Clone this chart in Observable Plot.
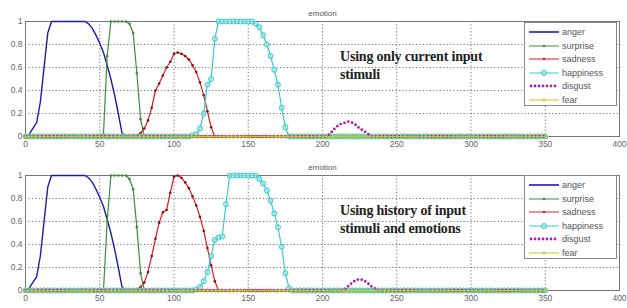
<!DOCTYPE html>
<html><head><meta charset="utf-8">
<script src="https://cdn.jsdelivr.net/npm/d3@7"></script>
<script src="https://cdn.jsdelivr.net/npm/@observablehq/plot@0.6"></script>
<style>
html,body{margin:0;padding:0;background:#fff;}
#wrap{position:relative;width:627px;height:308px;overflow:hidden;font-family:"Liberation Sans",Arial,sans-serif;}
#wrap svg{display:block;overflow:visible;}
.legend{position:absolute;left:524px;width:93px;height:84px;border:1px solid #888;background:#fff;box-sizing:border-box;}
.legend .row{position:absolute;left:4px;height:12px;display:flex;align-items:center;font-size:9px;color:#555;}
.legend .row svg{margin-right:3px;}
.note{position:absolute;left:340px;font-family:"Liberation Serif","DejaVu Serif",serif;font-weight:bold;font-size:14px;line-height:18px;color:#222;letter-spacing:-0.2px;}
</style></head>
<body><div id="wrap"></div>
<script>
// ---- data (time step 2.5; each series: start time + values, 0 elsewhere) ----
const step = 2.5;
const tEnd = 350;
const seriesNames = ["anger","surprise","sadness","happiness","disgust","fear"];
const xTicks = [0,50,100,150,200,250,300,350,400];
const yTicks = [0,0.2,0.4,0.6,0.8,1];
const panelTitle = "emotion";
const notes = ["Using only current input<br>stimuli", "Using history of input<br>stimuli and emotions"];

const angerTop = {start:0, values:[0,0.02,0.07,0.12,0.3,0.6,0.9,1,1,1,1,1,1,1,1,1,1,0.98,0.94,0.88,0.81,0.73,0.62,0.5,0.36,0.2,0.03,0]};
const surpriseTop = {start:50, values:[0,0.02,0.7,1,1,1,1,1,0.98,0.9,0.55,0.15,0]};
const sadnessTop = {start:72.5, values:[0,0.01,0.03,0.07,0.14,0.25,0.4,0.46,0.53,0.6,0.65,0.72,0.73,0.72,0.7,0.67,0.62,0.56,0.47,0.36,0.22,0.08,0]};
const happinessTop = {start:110, values:[0,0.01,0.02,0.07,0.2,0.45,0.5,0.85,1,1,1,1,1,1,1,1,1,1,0.98,0.95,0.88,0.8,0.7,0.58,0.45,0.25,0.08,0]};
const disgustTop = {start:202.5, values:[0,0.02,0.06,0.09,0.11,0.12,0.13,0.12,0.1,0.07,0.05,0.03,0]};
const fearTop = {start:0, values:[0]};

const angerBottom = {start:0, values:[0,0.02,0.07,0.12,0.3,0.6,0.9,1,1,1,1,1,1,1,1,1,1,0.98,0.94,0.88,0.81,0.73,0.62,0.5,0.36,0.2,0.03,0]};
const surpriseBottom = {start:50, values:[0,0,0.6,1,1,1,1,1,0.97,0.88,0.55,0.15,0]};
const sadnessBottom = {start:72.5, values:[0,0.01,0.03,0.07,0.16,0.3,0.45,0.59,0.68,0.7,0.85,0.99,1,0.98,0.94,0.89,0.82,0.74,0.64,0.52,0.37,0.22,0.08,0]};
const happinessBottom = {start:112.5, values:[0,0.01,0.03,0.08,0.16,0.3,0.44,0.46,0.47,0.75,1,1,1,1,1,1,1,1,0.97,0.93,0.87,0.78,0.67,0.55,0.38,0.15,0.02,0]};
const disgustBottom = {start:212.5, values:[0,0.01,0.04,0.07,0.09,0.1,0.09,0.07,0.04,0.02,0]};
const fearBottom = {start:0, values:[0]};

const styles = {
  anger:{color:"#1c1ca8"},
  surprise:{color:"#3c8c3c"},
  sadness:{color:"#d42020"},
  happiness:{color:"#3cc8c8"},
  disgust:{color:"#b01cb0"},
  fear:{color:"#c8c820"}
};

const t = d3.range(0, tEnd + step/2, step);
function series(s){
  return t.map(x => { const i = Math.round((x - s.start)/step); return {t:x, v:(i>=0 && i<s.values.length) ? s.values[i] : 0}; });
}

function panel(d, opts){
  const A = series(d.anger), S = series(d.surprise), R = series(d.sadness),
        H = series(d.happiness), D = series(d.disgust), F = series(d.fear);
  return Plot.plot({
    width:627, height:opts.height,
    marginLeft:25, marginRight:8, marginTop:opts.mt, marginBottom:opts.mb,
    x:{domain:[0,400]}, y:{domain:[0,1]},
    style:{fontFamily:"Liberation Sans, Arial, sans-serif", overflow:"visible"},
    marks:[
      Plot.gridX(xTicks,{stroke:"#000",strokeOpacity:0.55,strokeDasharray:"1.2,2.2"}),
      Plot.gridY(yTicks,{stroke:"#000",strokeOpacity:0.55,strokeDasharray:"1.2,2.2"}),
      Plot.frame({stroke:"#777"}),
      Plot.axisX(xTicks,{label:null,tickSize:0,tickPadding:4,fontSize:8.5,fill:"#666",tickFormat:d=>String(d)}),
      Plot.axisY(yTicks,{label:null,tickSize:0,tickPadding:3,fontSize:8.5,fill:"#666",tickFormat:d=>String(d)}),
      Plot.line(A,{x:"t",y:"v",stroke:styles.anger.color,strokeWidth:1.4}),
      Plot.line(S,{x:"t",y:"v",stroke:styles.surprise.color,strokeWidth:1.2}),
      Plot.dot(S,{x:"t",y:"v",r:1.3,fill:styles.surprise.color,stroke:"none"}),
      Plot.line(R,{x:"t",y:"v",stroke:styles.sadness.color,strokeWidth:1.2}),
      Plot.dot(R,{x:"t",y:"v",r:1.3,fill:"#8a1010",stroke:"none"}),
      Plot.line(H,{x:"t",y:"v",stroke:styles.happiness.color,strokeWidth:1.2}),
      Plot.dot(H,{x:"t",y:"v",r:2.5,fill:"#9ee8e8",fillOpacity:0.6,stroke:styles.happiness.color,strokeWidth:1}),
      Plot.line(D,{x:"t",y:"v",stroke:styles.disgust.color,strokeWidth:2.8,strokeDasharray:"0,4",strokeLinecap:"round"}),
      Plot.line(F,{x:"t",y:"v",stroke:styles.fear.color,strokeWidth:1}),
      Plot.dot(F,{x:"t",y:"v",symbol:"plus",r:2,stroke:styles.fear.color,strokeWidth:0.8}),
      Plot.text([panelTitle],{text:d=>d,frameAnchor:"top",dy:opts.titleDy,fontSize:8,fill:"#555"})
    ]
  });
}

const wrap = document.getElementById("wrap");
const p1 = panel({anger:angerTop,surprise:surpriseTop,sadness:sadnessTop,happiness:happinessTop,disgust:disgustTop,fear:fearTop},{height:150,mt:21,mb:14,titleDy:-11});
const p2 = panel({anger:angerBottom,surprise:surpriseBottom,sadness:sadnessBottom,happiness:happinessBottom,disgust:disgustBottom,fear:fearBottom},{height:158,mt:25,mb:18,titleDy:-11});
wrap.appendChild(p1);
wrap.appendChild(p2);

function legendSample(name){
  const c = styles[name].color;
  let inner = "";
  if(name==="disgust"){
    inner = `<line x1="2" y1="5" x2="28" y2="5" stroke="${c}" stroke-width="2.8" stroke-dasharray="0,4" stroke-linecap="round"/>`;
  } else {
    inner = `<line x1="0" y1="5" x2="30" y2="5" stroke="${c}" stroke-width="${name==='anger'?1.6:1}"/>`;
    if(name==="surprise"||name==="sadness") inner += `<circle cx="15" cy="5" r="1.3" fill="${c}"/>`;
    if(name==="happiness") inner += `<circle cx="15" cy="5" r="2.5" fill="#9ee8e8" fill-opacity="0.6" stroke="${c}"/>`;
    if(name==="fear") inner += `<path d="M13,5h4M15,3v4" stroke="${c}" stroke-width="0.8"/>`;
  }
  return `<svg width="30" height="10">${inner}</svg>`;
}
function addLegend(top){
  const lg = document.createElement("div");
  lg.className = "legend";
  lg.style.top = top + "px";
  seriesNames.forEach((n,i)=>{
    const r = document.createElement("div");
    r.className = "row";
    r.style.top = (3 + i*13.5) + "px";
    r.innerHTML = legendSample(n) + "<span>" + n + "</span>";
    lg.appendChild(r);
  });
  wrap.appendChild(lg);
}
addLegend(22);
addLegend(175);

function addNote(html, top){
  const n = document.createElement("div");
  n.className = "note";
  n.style.top = top + "px";
  n.innerHTML = html;
  wrap.appendChild(n);
}
addNote(notes[0], 48);
addNote(notes[1], 202);
</script>
</body></html>
